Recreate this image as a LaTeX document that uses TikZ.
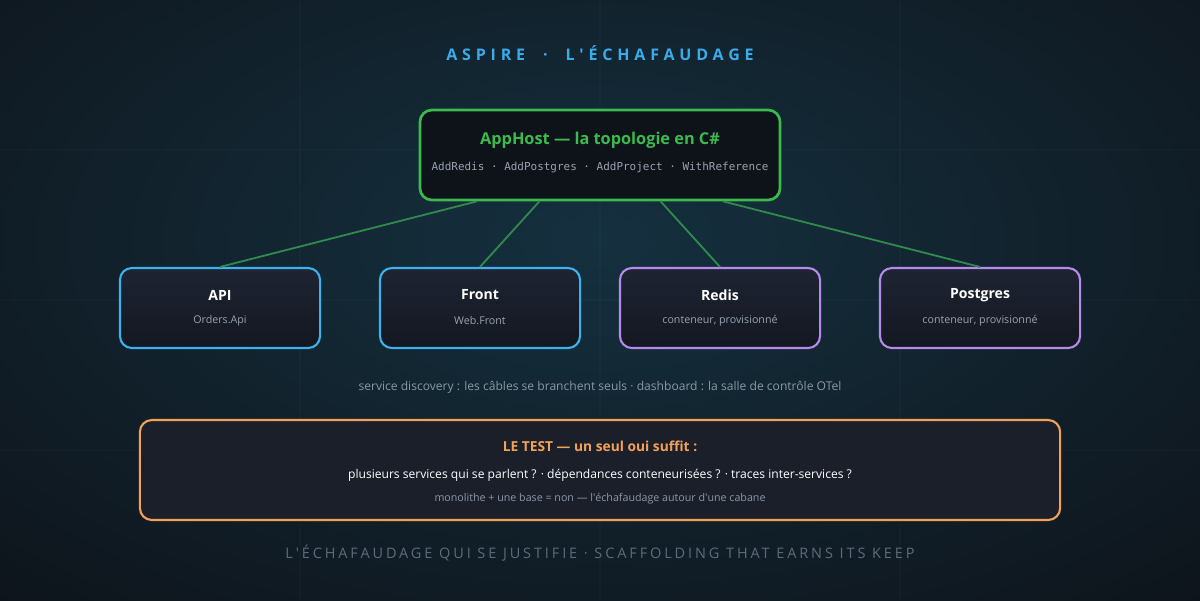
\documentclass[tikz,border=0pt]{standalone}
\usepackage{fontspec}
\setmainfont{Open Sans}
\newfontfamily\monof{DejaVu Sans Mono}
\newfontfamily\spaced[LetterSpace=30]{Open Sans}
\newfontfamily\spacedfoot[LetterSpace=20]{Open Sans}
\usetikzlibrary{calc}
\definecolor{bg}{HTML}{0D1117}
\definecolor{glow}{HTML}{15303F}
\definecolor{titleblue}{HTML}{3AABEB}
\definecolor{hostgreen}{HTML}{3DBA4E}
\definecolor{wiregreen}{HTML}{2F8A4C}
\definecolor{svcblue}{HTML}{3CB2EC}
\definecolor{svcpurple}{HTML}{B48AEA}
\definecolor{testorange}{HTML}{F2A257}
\definecolor{subgray}{HTML}{98A2B0}
\definecolor{capgray}{HTML}{8C97A6}
\definecolor{footgray}{HTML}{5E6B7A}
\definecolor{boxtop}{HTML}{1E2433}
\definecolor{boxbot}{HTML}{131720}
\definecolor{hostfill}{HTML}{0E1219}
\definecolor{testfill}{HTML}{1B1F2A}
\tikzset{
  svcbox/.style={draw=#1, line width=1.5pt, rounded corners=8.5pt, minimum width=142.3pt, minimum height=56.9pt, top color=boxtop, bottom color=boxbot, inner sep=0pt},
  svctitle/.style={text=white, font=\fontsize{10}{12}\selectfont\bfseries, inner sep=0pt},
  svcsub/.style={text=subgray, font=\fontsize{7.6}{9}\selectfont, inner sep=0pt},
  wire/.style={draw=wiregreen, line width=1.3pt},
  gridline/.style={draw=white, opacity=0.015, line width=0.8pt}
}
\begin{document}
\begin{tikzpicture}[x=0.025cm, y=-0.025cm]
\useasboundingbox (0,0) rectangle (1200,600);
\fill[bg] (0,0) rectangle (1200,600);
\begin{scope}
\clip (0,0) rectangle (1200,600);
\shade[inner color=glow, outer color=bg] (600,240) ellipse [x radius=1000, y radius=540];
\end{scope}
\foreach \yy in {150,300,450} \draw[gridline] (0,\yy) -- (1200,\yy);
\foreach \xx in {300,600,900} \draw[gridline] (\xx,0) -- (\xx,600);

\node[text=titleblue, font=\spaced\fontsize{11.4}{13}\selectfont\bfseries, inner sep=0pt] (title) at (600,53) {ASPIRE \ · \ L\kern3.4pt\textquotesingle\kern3.4pt ÉCHAFAUDAGE};

\node[draw=hostgreen, line width=1.9pt, rounded corners=8.5pt, fill=hostfill, minimum width=256.1pt, minimum height=64pt, inner sep=0pt] (app) at (600,155) {};
\node[text=hostgreen, font=\fontsize{11.6}{14}\selectfont\bfseries, inner sep=0pt] (apptitle) at (600,140) {AppHost — la topologie en C\#};
\node[text=subgray, font=\monof\fontsize{7.8}{10}\selectfont, inner sep=0pt] (appsub) at (600,168) {AddRedis · AddPostgres · AddProject · WithReference};

\node[svcbox=svcblue] (api) at (220,308) {};
\node[svcbox=svcblue] (front) at (480,308) {};
\node[svcbox=svcpurple] (redis) at (720,308) {};
\node[svcbox=svcpurple] (pg) at (980,308) {};

\node[svctitle] (apit) at (220,295) {API};
\node[svcsub] (apis) at (220,321) {Orders.Api};
\node[svctitle] (frontt) at (480,295) {Front};
\node[svcsub] (fronts) at (480,321) {Web.Front};
\node[svctitle] (redist) at (720,295) {Redis};
\node[svcsub] (rediss) at (720,321) {conteneur, provisionné};
\node[svctitle] (pgt) at (980,295) {Postgres};
\node[svcsub] (pgs) at (980,321) {conteneur, provisionné};

\draw[wire] ($(app.south west)!0.161!(app.south east)$) -- (api.north);
\draw[wire] ($(app.south west)!0.333!(app.south east)$) -- (front.north);
\draw[wire] ($(app.south west)!0.667!(app.south east)$) -- (redis.north);
\draw[wire] ($(app.south west)!0.839!(app.south east)$) -- (pg.north);

\node[text=capgray, font=\fontsize{8.6}{10}\selectfont, inner sep=0pt] (cap) at (600,387) {service discovery : les câbles se branchent seuls · dashboard : la salle de contrôle OTel};

\node[draw=testorange, line width=1.5pt, rounded corners=8.5pt, fill=testfill, minimum width=654.4pt, minimum height=71.1pt, inner sep=0pt] (test) at (600,470) {};
\node[text=testorange, font=\fontsize{9.8}{12}\selectfont\bfseries, inner sep=0pt] (testt) at (600,446) {LE TEST — un seul oui suffit :};
\node[text=white, font=\fontsize{8.6}{10}\selectfont, inner sep=0pt] (testl) at (600,475) {plusieurs services qui se parlent ? · dépendances conteneurisées ? · traces inter-services ?};
\node[text=capgray, font=\fontsize{7.6}{9}\selectfont, inner sep=0pt] (tests) at (600,499) {monolithe + une base = non — l\textquotesingle échafaudage autour d\textquotesingle une cabane};

\node[text=footgray, font=\spacedfoot\fontsize{10.3}{12}\selectfont, inner sep=0pt] (foot) at (600,553) {L\kern2pt\textquotesingle\kern2pt ÉCHAFAUDAGE QUI SE JUSTIFIE · SCAFFOLDING THAT EARNS ITS KEEP};
\end{tikzpicture}
\end{document}
